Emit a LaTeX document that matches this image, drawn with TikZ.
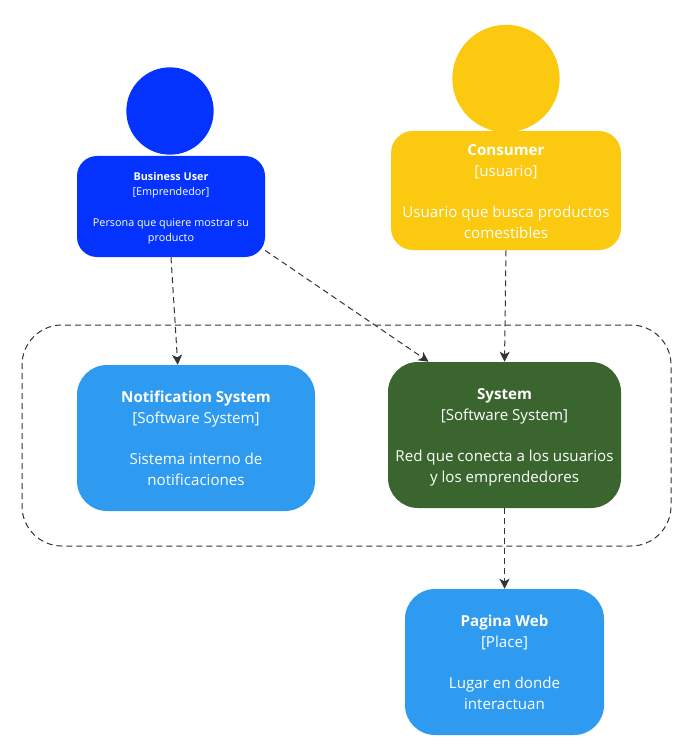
\documentclass[tikz,border=0pt]{standalone}
\usepackage{fontspec}
\setmainfont{Open Sans}
\usetikzlibrary{arrows.meta}
\definecolor{userblue}{HTML}{0433FF}
\definecolor{consyellow}{HTML}{FBC90F}
\definecolor{sysblue}{HTML}{2F9BF0}
\definecolor{sysgreen}{HTML}{3A652F}
\definecolor{linegray}{HTML}{333333}
\newcommand{\cardtext}[4]{\rule{0pt}{0.9\baselineskip}\textbf{#1}\\{}[#2]\\~\\#3\\#4\strut}
\tikzset{
  card/.style={inner sep=0pt,align=center,text=white,font=\fontsize{11.35}{15.5}\selectfont,rounded corners=22.5pt},
  smallcard/.style={card,font=\fontsize{8.1}{11.45}\selectfont,rounded corners=15pt},
  head/.style={circle,inner sep=0pt},
  link/.style={draw=linegray,line width=0.75pt,dash pattern=on 4.5pt off 3pt,-{Stealth[length=7.5pt,width=7.5pt,inset=2pt]}}
}
\begin{document}
\begin{tikzpicture}[x=0.75pt,y=-0.75pt]
\useasboundingbox (0,0) rectangle (687,745);

\node (bnd) at (346.5,435.5) [draw=linegray,line width=0.75pt,dash pattern=on 4.5pt off 3pt,rounded corners=30pt,inner sep=0pt,minimum width=486.75pt,minimum height=165.75pt] {};

\node (buhead) at (170,111) [head,fill=userblue,minimum size=65.5pt] {};
\node (bu) at (171,206.5) [smallcard,fill=userblue,minimum width=141pt,minimum height=75.75pt] {\cardtext{Business User}{Emprendedor}{Persona que quiere mostrar su}{producto}};

\node (conshead) at (506,78.5) [head,fill=consyellow,minimum size=80.5pt] {};
\node (cons) at (506,190.5) [card,fill=consyellow,rounded corners=16.5pt,minimum width=172.5pt,minimum height=89.25pt] {\cardtext{Consumer}{usuario}{Usuario que busca productos}{comestibles}};

\node (notif) at (196,438) [card,fill=sysblue,minimum width=178.5pt,minimum height=109.5pt] {\cardtext{Notification System}{Software System}{Sistema interno de}{notificaciones}};
\node (sys) at (504.5,435) [card,fill=sysgreen,minimum width=174.75pt,minimum height=109.5pt] {\cardtext{System}{Software System}{Red que conecta a los usuarios}{y los emprendedores}};
\node (web) at (504.5,662) [card,fill=sysblue,minimum width=149.25pt,minimum height=109.5pt] {\cardtext{Pagina Web}{Place}{Lugar en donde}{interactuan}};

\draw[link] (bu.south) to (notif.104);
\draw[link] (bu.-25.6) to (sys.136.3);
\draw[link] (cons.south) to (sys.north);
\draw[link] (sys.south) to (web.north);
\end{tikzpicture}
\end{document}
